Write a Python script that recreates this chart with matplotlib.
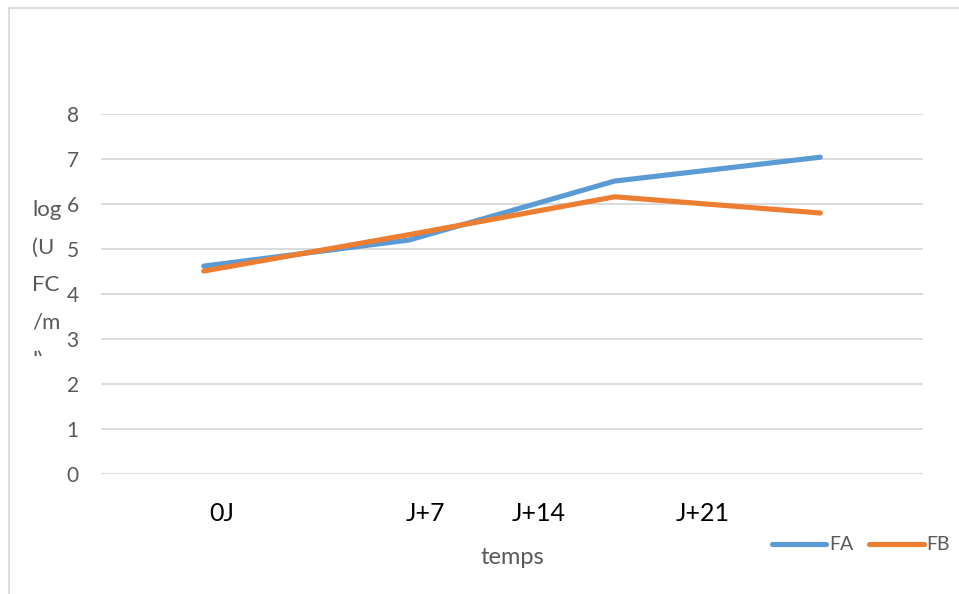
import matplotlib
matplotlib.use("Agg")
import matplotlib.pyplot as plt
from matplotlib.lines import Line2D
from matplotlib.patches import Rectangle

# data
categories = [0, 1, 2, 3]
fa_values = [4.62, 5.2, 6.51, 7.04]
fb_values = [4.51, 5.32, 6.16, 5.8]
# the x labels sit oddly between categories in the original
x_label_text = ["0J", "J+7", "J+14", "J+21"]
x_label_pos = [0.09, 1.08, 1.63, 2.43]
y_ticks = [0, 1, 2, 3, 4, 5, 6, 7, 8]

blue = "#5B9BD5"
orange = "#ED7D31"
grey = "#595959"

plt.rcParams["font.family"] = ["Lato", "DejaVu Sans"]

W, H = 959, 594
fig = plt.figure(figsize=(W / 100, H / 100), dpi=100)
ax = fig.add_axes([101 / W, 1 - 474 / H, (923 - 101) / W, (474 - 114) / H])

ax.plot(categories, fa_values, color=blue, lw=3.7, solid_capstyle="round",
        solid_joinstyle="round", label="FA", zorder=3)
ax.plot(categories, fb_values, color=orange, lw=3.7, solid_capstyle="round",
        solid_joinstyle="round", label="FB", zorder=3)

ax.set_xlim(-0.5, 3.5)
ax.set_ylim(0, 8)
ax.set_yticks(y_ticks)
ax.set_xticks([])
ax.grid(axis="y", color="#D9D9D9", lw=1.3)
ax.set_axisbelow(True)
for s in ax.spines.values():
    s.set_visible(False)
ax.tick_params(axis="y", length=0, pad=16, labelsize=15, labelcolor=grey)
for t in ax.yaxis.get_major_ticks():
    t.label1.set_va("center_baseline")

for txt, xp in zip(x_label_text, x_label_pos):
    ax.text(xp, -0.88, txt, ha="center", va="center", fontsize=18, color="black")

fig.text(512 / W, 1 - 557 / H, "temps", ha="center", va="center",
         fontsize=17, color=grey)

# wrapped y title, last line cut like in the original
yt = fig.text(32 / W, 1 - 200 / H, "log\n(U\nFC\n/m\nl)", ha="left", va="top",
              fontsize=16, color=grey, linespacing=2.1)
clip = Rectangle((0, 1 - 356 / H), 1, 356 / H, transform=fig.transFigure)
yt.set_clip_path(clip)
yt.set_clip_on(True)

handles = [Line2D([], [], color=blue, lw=3.7, solid_capstyle="round"),
           Line2D([], [], color=orange, lw=3.7, solid_capstyle="round")]
fig.legend(handles, ["FA", "FB"], loc="center left",
           bbox_to_anchor=(772 / W, 1 - 545 / H), ncol=2, frameon=False,
           fontsize=14, labelcolor=grey, handlelength=2.8, handletextpad=0.15,
           columnspacing=0.8, borderaxespad=0, borderpad=0)

# thin frame lines at the top and left edges
fig.add_artist(Line2D([8.5 / W, 8.5 / W], [0, 1 - 8 / H], transform=fig.transFigure,
                      color="#D9D9D9", lw=1.3))
fig.add_artist(Line2D([8.5 / W, 1], [1 - 8 / H, 1 - 8 / H], transform=fig.transFigure,
                      color="#D9D9D9", lw=1.3))

fig.savefig("out.png", dpi=100)
